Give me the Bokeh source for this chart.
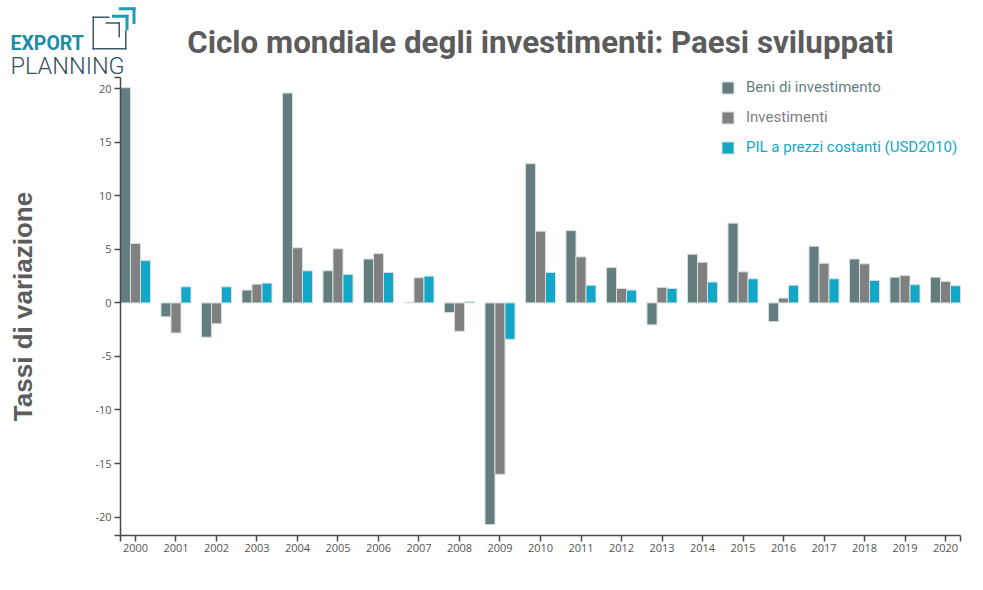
import math
from bokeh.plotting import figure
from bokeh.models import (ColumnDataSource, FixedTicker, Label, Legend, LegendItem,
                          BoxAnnotation)
from bokeh.transform import dodge
from bokeh.embed import file_html
from bokeh.resources import INLINE

# ---------------- data ----------------
years = [str(y) for y in range(2000, 2021)]
beni_investimento = [20.1, -1.3, -3.2, 1.2, 19.6, 3.0, 4.1, 0.05, -0.9, -20.7, 13.0,
                     6.75, 3.3, -2.05, 4.55, 7.45, -1.75, 5.3, 4.1, 2.4, 2.4]
investimenti = [5.55, -2.8, -1.95, 1.75, 5.15, 5.05, 4.6, 2.35, -2.65, -16.0, 6.7,
                4.3, 1.35, 1.45, 3.8, 2.9, 0.45, 3.7, 3.65, 2.55, 2.0]
pil_prezzi_costanti = [3.95, 1.5, 1.5, 1.85, 3.0, 2.65, 2.85, 2.5, 0.1, -3.4, 2.85,
                       1.65, 1.2, 1.35, 1.95, 2.25, 1.65, 2.25, 2.1, 1.7, 1.6]
series_names = ["Beni di investimento", "Investimenti", "PIL a prezzi costanti (USD2010)"]
series_colors = ["#647e7e", "#808080", "#12a7c7"]
y_ticks = [-20, -15, -10, -5, 0, 5, 10, 15, 20]

title_text = "Ciclo mondiale degli investimenti: Paesi sviluppati"
y_title = "Tassi di variazione"

# ---------------- geometry ----------------
W, H = 983, 590
FL, FR, FT, FB = 120, 960, 77, 535        # plot-area edges in px
X0, X1 = -0.37, len(years) - 1 + 0.37
Y0, Y1 = -21.72, 21.05
BAR_W = 0.247


def px_x(px):
    return X0 + (px - FL) / (FR - FL) * (X1 - X0)


def px_y(py):
    return Y1 - (py - FT) / (FB - FT) * (Y1 - Y0)


src = ColumnDataSource(dict(
    x=list(range(len(years))),
    s0=beni_investimento, s1=investimenti, s2=pil_prezzi_costanti,
))

p = figure(width=W, height=H, output_backend="svg", toolbar_location=None,
           x_range=(px_x(0), px_x(W)), y_range=(px_y(H), px_y(0)),
           min_border=0)
p.title.visible = False
p.outline_line_color = None
p.xgrid.visible = False
p.ygrid.visible = False
p.background_fill_color = "white"
p.border_fill_color = "white"

renderers = []
for k, (col, color) in enumerate(zip(["s0", "s1", "s2"], series_colors)):
    r = p.vbar(x=dodge("x", (k - 1) * BAR_W, range=p.x_range), top=col, bottom=0,
               width=BAR_W, source=src, fill_color=color, line_color="#d5dede",
               line_width=1)
    renderers.append(r)

axis_color = "#4a4a4a"
tick_font = "Open Sans"

# x axis
xt = [X0] + list(range(len(years))) + [X1]
xa = p.xaxis[0]
xa.fixed_location = Y0
xa.bounds = (X0, X1)
xa.ticker = FixedTicker(ticks=xt)
ov = {i: y for i, y in enumerate(years)}
ov[X0] = ""
ov[X1] = ""
xa.major_label_overrides = ov
xa.minor_tick_line_color = None
xa.major_tick_in = 0
xa.major_tick_out = 6
xa.axis_line_color = axis_color
xa.axis_line_width = 1.5
xa.major_tick_line_color = axis_color
xa.major_tick_line_width = 1.5
xa.major_label_text_font = tick_font
xa.major_label_text_font_size = "11px"
xa.major_label_text_color = "#555555"
xa.major_label_standoff = 2

# y axis
yt = [Y0] + y_ticks + [Y1]
ya = p.yaxis[0]
ya.fixed_location = X0
ya.bounds = (Y0, Y1)
ya.ticker = FixedTicker(ticks=yt)
yov = {t: str(t) for t in y_ticks}
yov[Y0] = ""
yov[Y1] = ""
ya.major_label_overrides = yov
ya.minor_tick_line_color = None
ya.major_tick_in = 0
ya.major_tick_out = 6
ya.axis_line_color = axis_color
ya.axis_line_width = 1.5
ya.major_tick_line_color = axis_color
ya.major_tick_line_width = 1.5
ya.major_label_text_font = tick_font
ya.major_label_text_font_size = "11px"
ya.major_label_text_color = "#555555"
ya.major_label_standoff = 3

# legends (one per series so each label keeps its series colour)
for k, (name, color, r) in enumerate(zip(series_names, series_colors, renderers)):
    lg = Legend(items=[LegendItem(label=name, renderers=[r])],
                location=(720, H - 81 - 15 - 30 * k),
                padding=0, margin=0, spacing=0,
                glyph_width=15, glyph_height=15, label_height=15,
                label_standoff=11,
                label_text_font="Roboto", label_text_font_size="15px",
                label_text_color=color,
                border_line_alpha=0, background_fill_alpha=0)
    p.add_layout(lg)

# title
p.add_layout(Label(x=px_x(540), y=px_y(42), text=title_text, text_align="center",
                   text_baseline="alphabetic", text_font="Roboto",
                   text_font_style="bold", text_font_size="31.3px",
                   text_color="#5c5c5c"))

# y title
p.add_layout(Label(x=px_x(22), y=px_y(306), text=y_title, text_align="center",
                   text_baseline="middle", angle=math.pi / 2,
                   text_font="Liberation Sans", text_font_style="bold",
                   text_font_size="26px", text_color="#5c5c5c"))

# logo text
p.add_layout(Label(x=px_x(10), y=px_y(42.5), text="EXPORT", text_align="left",
                   text_baseline="alphabetic", text_font="Roboto",
                   text_font_style="bold", text_font_size="19.5px",
                   text_color="#1d8ca5"))
p.add_layout(Label(x=px_x(10), y=px_y(65), text="PLANNING", text_align="left",
                   text_baseline="alphabetic", text_font="Roboto Light",
                   text_font_size="23.5px", text_color="#34505f"))

# logo shapes (px rectangles: left, right, top, bottom)
dark = "#3d5868"
teal = "#1f9bb3"
logo_boxes = [
    (92, 93.5, 16, 49, dark), (92, 126, 47.5, 49, dark), (92, 109, 16, 17.5, dark),
    (124.5, 126, 30, 49, dark), (105, 119.5, 21.8, 23.3, dark), (118, 119.5, 21.8, 37, dark),
    (111.5, 128, 14.3, 17.3, teal), (125, 128, 14.3, 30, teal),
    (118.3, 135, 6.7, 9.7, teal), (132, 135, 6.7, 23.5, teal),
]
for l, r_, t, b, c in logo_boxes:
    p.add_layout(BoxAnnotation(left=px_x(l), right=px_x(r_), top=px_y(t), bottom=px_y(b),
                               fill_color=c, fill_alpha=1, line_alpha=0, level="overlay"))

open("out.html", "w").write(file_html(p, INLINE))
